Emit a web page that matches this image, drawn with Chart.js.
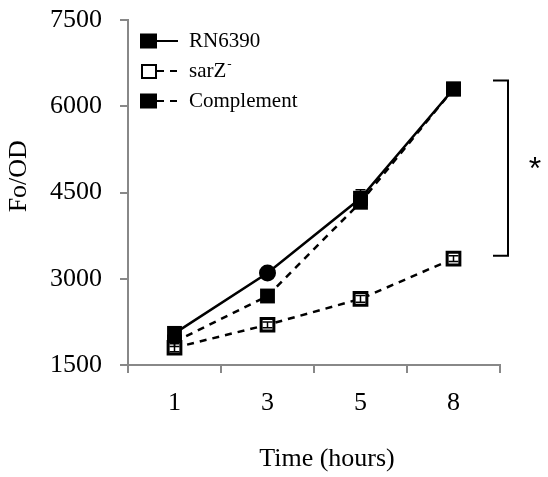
<!DOCTYPE html>
<html>
<head>
<meta charset="utf-8">
<script src="https://cdn.jsdelivr.net/npm/chart.js@4"></script>
<style>
html, body { margin: 0; padding: 0; background: #fff; }
#wrap { width: 548px; height: 477px; }
</style>
</head>
<body>
<div id="wrap"><canvas id="chart" width="548" height="477"></canvas></div>
<script>
// values
var hours = ['1', '3', '5', '8'];
var rn6390 = [2050, 3100, 4400, 6300];
var sarZ = [1800, 2200, 2650, 3350];
var complement = [1900, 2700, 4330, 6300];
var rn6390Err = [90, 60, 150, 60];
var sarZErr = [70, 50, 60, 50];
var complementErr = [80, 60, 100, 60];
var yTicks = [1500, 3000, 4500, 6000, 7500];
var legendNames = ['RN6390', 'sarZ', 'Complement'];
var bracketFrom = 3400;
var bracketTo = 6450;

var serif = 'Liberation Serif, Times New Roman, serif';

// error bars, bracket with star and the legend box
var extras = {
    id: 'extras',
    afterDatasetsDraw: function (chart) {
        var ctx = chart.ctx;
        var x = chart.scales.x, y = chart.scales.y;
        var errs = [rn6390Err, sarZErr, complementErr];
        ctx.save();
        ctx.strokeStyle = '#000';
        ctx.lineWidth = 1.5;
        chart.data.datasets.forEach(function (ds, i) {
            ds.data.forEach(function (v, j) {
                var px = x.getPixelForValue(j);
                var top = y.getPixelForValue(v + errs[i][j]);
                var bot = y.getPixelForValue(v - errs[i][j]);
                ctx.beginPath();
                ctx.moveTo(px, top); ctx.lineTo(px, bot);
                ctx.moveTo(px - 5, top); ctx.lineTo(px + 5, top);
                ctx.moveTo(px - 5, bot); ctx.lineTo(px + 5, bot);
                ctx.stroke();
            });
        });
        ctx.restore();
    },
    afterDraw: function (chart) {
        var ctx = chart.ctx;
        var area = chart.chartArea;
        var y = chart.scales.y;
        ctx.save();

        // bracket
        var bx = area.right + 8;
        var y1 = y.getPixelForValue(bracketTo);
        var y2 = y.getPixelForValue(bracketFrom);
        ctx.strokeStyle = '#000';
        ctx.lineWidth = 2;
        ctx.beginPath();
        ctx.moveTo(bx - 15, y1); ctx.lineTo(bx, y1);
        ctx.lineTo(bx, y2); ctx.lineTo(bx - 15, y2);
        ctx.stroke();
        ctx.fillStyle = '#000';
        ctx.font = '32px Liberation Sans, Arial, sans-serif';
        ctx.textAlign = 'center';
        ctx.textBaseline = 'alphabetic';
        ctx.fillText('*', bx + 27, (y1 + y2) / 2 + 11);

        // legend
        var rows = [41, 71, 101];
        chart.data.datasets.forEach(function (ds, i) {
            var ry = rows[i];
            ctx.strokeStyle = '#000';
            ctx.lineWidth = 2;
            ctx.setLineDash(ds.borderDash || []);
            ctx.beginPath();
            ctx.moveTo(157, ry); ctx.lineTo(178, ry);
            ctx.stroke();
            ctx.setLineDash([]);
            if (ds.pointBackgroundColor === '#fff') {
                ctx.fillStyle = '#fff';
                ctx.fillRect(141, ry - 7, 16, 15);
                ctx.lineWidth = 2;
                ctx.strokeRect(142, ry - 6, 14, 13);
            } else {
                ctx.fillStyle = '#000';
                ctx.fillRect(140, ry - 7.5, 17, 15);
            }
            ctx.fillStyle = '#000';
            ctx.textAlign = 'left';
            ctx.textBaseline = 'middle';
            ctx.font = '21px ' + serif;
            ctx.fillText(legendNames[i], 189, ry);
            if (i === 1) {
                var w = ctx.measureText(legendNames[i]).width;
                ctx.font = '13px ' + serif;
                ctx.fillText('-', 189 + w + 1, ry - 6);
            }
        });
        ctx.restore();
    }
};

var axisFont = { family: serif, size: 26 };

new Chart(document.getElementById('chart'), {
    type: 'line',
    data: {
        labels: hours,
        datasets: [
            {
                label: 'RN6390',
                data: rn6390,
                borderColor: '#000',
                borderWidth: 2.5,
                pointStyle: ['rect', 'circle', 'rect', 'rect'],
                pointRadius: [10.5, 8.5, 10.5, 10.5],
                pointBackgroundColor: '#000',
                pointBorderColor: '#000',
                pointBorderWidth: 0
            },
            {
                label: 'sarZ-',
                data: sarZ,
                borderColor: '#000',
                borderWidth: 2.5,
                borderDash: [7, 6],
                pointStyle: 'rect',
                pointRadius: 9,
                pointBackgroundColor: '#fff',
                pointBorderColor: '#000',
                pointBorderWidth: 3
            },
            {
                label: 'Complement',
                data: complement,
                borderColor: '#000',
                borderWidth: 2.5,
                borderDash: [7, 6],
                pointStyle: 'rect',
                pointRadius: 10.5,
                pointBackgroundColor: '#000',
                pointBorderColor: '#000',
                pointBorderWidth: 0
            }
        ]
    },
    options: {
        responsive: false,
        animation: false,
        clip: false,
        layout: { padding: { top: 20, right: 48, left: 0, bottom: 0 } },
        plugins: {
            legend: { display: false },
            tooltip: { enabled: false }
        },
        scales: {
            x: {
                type: 'category',
                offset: true,
                grid: {
                    offset: true,
                    drawOnChartArea: false,
                    drawTicks: true,
                    tickLength: 8,
                    color: '#888',
                    lineWidth: 2
                },
                border: { display: true, color: '#888', width: 2 },
                ticks: { color: '#000', font: axisFont, padding: 15 },
                title: {
                    display: true,
                    text: '    Time (hours)',
                    color: '#000',
                    font: axisFont,
                    padding: { top: 0, bottom: 2 }
                },
                afterFit: function (s) {
                    s.height = 112;
                    s.paddingLeft = 0;
                    s.paddingRight = 0;
                }
            },
            y: {
                min: 1500,
                max: 7500,
                afterBuildTicks: function (s) {
                    s.ticks = yTicks.map(function (v) { return { value: v }; });
                },
                grid: {
                    drawOnChartArea: false,
                    drawTicks: true,
                    tickLength: 8,
                    color: '#888',
                    lineWidth: 2
                },
                border: { display: true, color: '#888', width: 2 },
                ticks: {
                    color: '#000',
                    font: axisFont,
                    padding: 18,
                    callback: function (v) { return String(v); }
                },
                title: {
                    display: true,
                    text: '     Fo/OD',
                    color: '#000',
                    font: axisFont,
                    padding: { top: 4, bottom: 0 }
                },
                afterFit: function (s) {
                    s.width = 128;
                    s.paddingTop = 0;
                    s.paddingBottom = 0;
                }
            }
        }
    },
    plugins: [extras]
});
</script>
</body>
</html>
